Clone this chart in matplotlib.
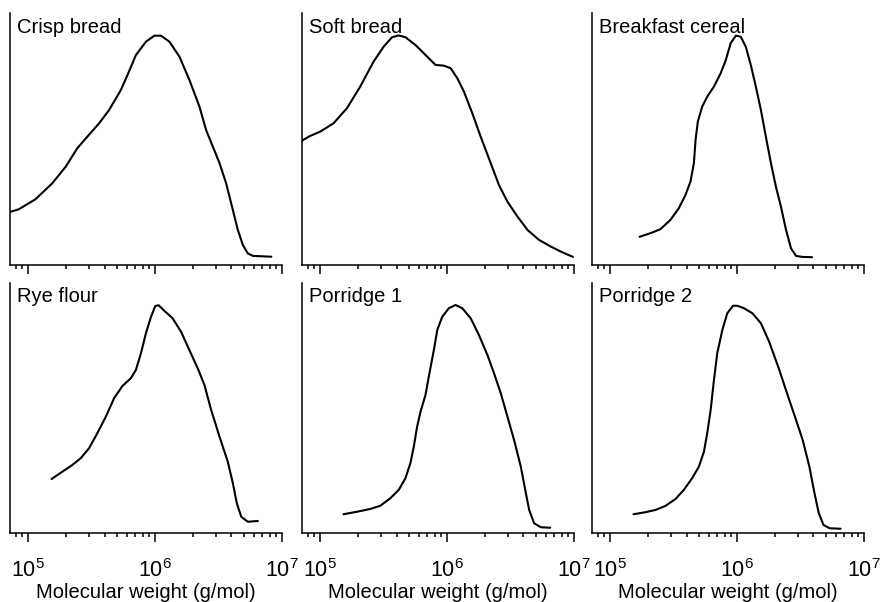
import numpy as np
import matplotlib
matplotlib.use("Agg")
import matplotlib.pyplot as plt

plt.rcParams['font.family'] = 'Liberation Sans'
plt.rcParams['mathtext.fontset'] = 'custom'
plt.rcParams['mathtext.rm'] = 'Liberation Sans'

# SEC molecular weight distributions, log10(M) vs. relative detector response
crisp_logmw = [4.847, 4.926, 5.058, 5.190, 5.296, 5.387, 5.466, 5.559, 5.638, 5.730,
               5.783, 5.849, 5.928, 5.994, 6.047, 6.113, 6.192, 6.271, 6.350, 6.402,
               6.508, 6.560, 6.613, 6.652, 6.692, 6.731, 6.771, 6.916]
crisp_signal = [0.209, 0.221, 0.261, 0.324, 0.390, 0.463, 0.509, 0.562, 0.615, 0.694,
                0.754, 0.833, 0.886, 0.910, 0.910, 0.886, 0.827, 0.734, 0.628, 0.536,
                0.404, 0.324, 0.218, 0.139, 0.079, 0.046, 0.036, 0.033]

soft_logmw = [4.855, 4.921, 5.000, 5.105, 5.211, 5.316, 5.421, 5.500, 5.567, 5.619,
              5.672, 5.751, 5.843, 5.909, 5.975, 6.028, 6.081, 6.133, 6.199, 6.265,
              6.344, 6.409, 6.476, 6.555, 6.634, 6.726, 6.818, 6.897, 6.992]
soft_signal = [0.493, 0.512, 0.529, 0.562, 0.622, 0.708, 0.807, 0.866, 0.904, 0.911,
               0.904, 0.873, 0.827, 0.794, 0.791, 0.781, 0.741, 0.688, 0.602, 0.509,
               0.404, 0.317, 0.251, 0.192, 0.139, 0.099, 0.073, 0.053, 0.032]

cereal_logmw = [5.232, 5.317, 5.396, 5.475, 5.541, 5.594, 5.633, 5.660, 5.673, 5.691,
                5.725, 5.765, 5.818, 5.871, 5.911, 5.950, 5.990, 6.029, 6.069, 6.108,
                6.148, 6.188, 6.227, 6.267, 6.306, 6.346, 6.386, 6.425, 6.465, 6.517,
                6.591]
cereal_signal = [0.112, 0.126, 0.142, 0.179, 0.225, 0.278, 0.331, 0.404, 0.496, 0.569,
                 0.628, 0.668, 0.708, 0.761, 0.813, 0.880, 0.910, 0.906, 0.866, 0.794,
                 0.708, 0.615, 0.509, 0.404, 0.311, 0.231, 0.139, 0.066, 0.036, 0.032,
                 0.031]

rye_logmw = [5.185, 5.269, 5.348, 5.414, 5.480, 5.545, 5.612, 5.677, 5.743, 5.809,
             5.849, 5.889, 5.928, 5.968, 6.002, 6.028, 6.073, 6.138, 6.205, 6.270,
             6.336, 6.389, 6.442, 6.508, 6.573, 6.613, 6.644, 6.679, 6.731, 6.810]
rye_signal = [0.216, 0.245, 0.272, 0.299, 0.339, 0.399, 0.465, 0.539, 0.588, 0.619,
              0.652, 0.719, 0.799, 0.865, 0.908, 0.911, 0.889, 0.859, 0.805, 0.732,
              0.659, 0.592, 0.492, 0.385, 0.285, 0.199, 0.119, 0.065, 0.045, 0.048]

porridge1_logmw = [5.184, 5.290, 5.395, 5.474, 5.553, 5.619, 5.672, 5.711, 5.738, 5.764,
                   5.791, 5.830, 5.856, 5.896, 5.923, 5.962, 6.014, 6.067, 6.120, 6.186,
                   6.251, 6.318, 6.370, 6.423, 6.476, 6.528, 6.581, 6.621, 6.647, 6.686,
                   6.739, 6.813]
porridge1_signal = [0.075, 0.085, 0.096, 0.109, 0.139, 0.172, 0.219, 0.279, 0.345, 0.425,
                    0.485, 0.552, 0.625, 0.732, 0.812, 0.865, 0.899, 0.912, 0.899, 0.859,
                    0.792, 0.712, 0.639, 0.559, 0.465, 0.372, 0.265, 0.159, 0.092, 0.039,
                    0.023, 0.021]

porridge2_logmw = [5.184, 5.277, 5.356, 5.435, 5.515, 5.580, 5.646, 5.699, 5.739, 5.765,
                   5.792, 5.818, 5.844, 5.884, 5.923, 5.968, 6.002, 6.055, 6.121, 6.188,
                   6.253, 6.333, 6.398, 6.465, 6.517, 6.570, 6.610, 6.644, 6.681, 6.729,
                   6.816]
porridge2_signal = [0.075, 0.083, 0.092, 0.108, 0.136, 0.172, 0.219, 0.265, 0.325, 0.399,
                    0.492, 0.612, 0.719, 0.812, 0.879, 0.909, 0.909, 0.899, 0.879, 0.839,
                    0.765, 0.652, 0.552, 0.452, 0.372, 0.265, 0.159, 0.079, 0.032, 0.019,
                    0.017]

titles = ['Crisp bread', 'Soft bread', 'Breakfast cereal',
          'Rye flour', 'Porridge 1', 'Porridge 2']
series = [(crisp_logmw, crisp_signal), (soft_logmw, soft_signal),
          (cereal_logmw, cereal_signal), (rye_logmw, rye_signal),
          (porridge1_logmw, porridge1_signal), (porridge2_logmw, porridge2_signal)]

W, H = 880, 602
fig = plt.figure(figsize=(W / 100, H / 100), dpi=100)

# panel boxes in pixels: left, top, width, height
lefts = [10, 302, 592]
rows = [(13, 252), (283, 250)]

for i, (title, (lm, sig)) in enumerate(zip(titles, series)):
    r, c = divmod(i, 3)
    top, h = rows[r]
    ax = fig.add_axes([lefts[c] / W, 1 - (top + h) / H, 272 / W, h / H])
    ax.plot(10 ** np.array(lm), sig, color='black', lw=1.5,
            solid_joinstyle='round', solid_capstyle='round')
    ax.set_xscale('log')
    ax.set_xlim(7.2e4, 1e7)
    ax.set_ylim(0, 1)
    ax.spines['top'].set_visible(False)
    ax.spines['right'].set_visible(False)
    for s in ('left', 'bottom'):
        ax.spines[s].set_linewidth(1.1)
    ax.set_yticks([])
    ax.tick_params(axis='x', which='major', direction='out', length=6.5, width=1.1,
                   labelsize=15.5, pad=12.5, labelbottom=(r == 1))
    ax.tick_params(axis='x', which='minor', direction='out', length=3.2, width=1.1,
                   labelbottom=False)
    ax.text(0.027, 0.982, title, transform=ax.transAxes, ha='left', va='top',
            fontsize=14.5)
    if r == 1:
        ax.set_xlabel('Molecular weight (g/mol)', fontsize=14.5)
        ax.xaxis.set_label_coords(0.5, -0.2)

fig.savefig('out.png', dpi=100)
